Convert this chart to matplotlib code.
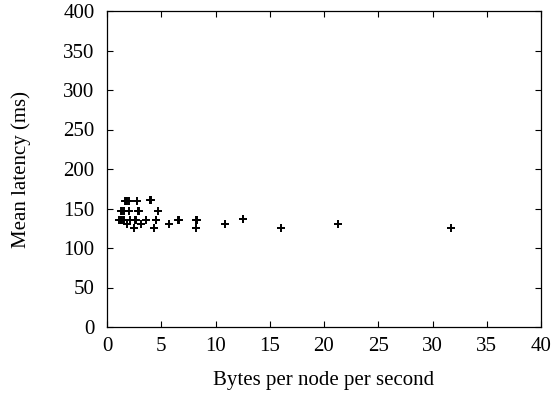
import matplotlib
matplotlib.use("Agg")
import matplotlib.pyplot as plt

# bytes per node per second vs mean latency (ms)
rate = [1.15, 1.25, 1.32, 1.45, 1.55, 1.3, 1.42, 1.55, 1.65, 1.72, 1.88, 2.07,
        2.04, 1.88, 2.14, 2.47, 2.6, 2.66, 2.73, 2.9, 2.96, 3.13, 3.56, 4.0, 4.05,
        4.35, 4.48, 4.53, 4.71, 5.70, 6.58, 6.62, 8.16, 8.24, 8.28, 10.83, 12.5,
        12.58, 16.03, 21.27, 31.74]
latency = [136, 136, 136, 136, 136, 147, 147, 147, 160, 160, 160, 160,
           147, 130, 136, 125, 136, 136, 160, 147, 147, 130, 136, 161, 161,
           125, 136, 136, 147, 130, 136, 136, 125, 136, 136, 130, 137,
           137, 125, 130, 125]

plt.rcParams['font.family'] = ['Liberation Serif', 'DejaVu Serif']
plt.rcParams['font.size'] = 15

W, H = 560, 394
L, R, T, B = 107, 541, 11, 327
fig = plt.figure(figsize=(W / 100, H / 100), dpi=100)
ax = fig.add_axes([L / W, 1 - B / H, (R - L) / W, (B - T) / H])

ax.plot(rate, latency, '+', color='black', markersize=6, markeredgewidth=1.4)

ax.set_xlim(0, 40)
ax.set_ylim(0, 400)
ax.set_xticks(range(0, 41, 5))
ax.set_yticks(range(0, 401, 50))
ax.tick_params(direction='in', top=True, right=True, length=4, width=0.8)
ax.tick_params(axis='x', pad=7)
ax.tick_params(axis='y', pad=9)
for s in ax.spines.values():
    s.set_linewidth(0.9)

ax.set_xlabel("Bytes per node per second", va='center')
ax.set_ylabel("Mean latency (ms)", va='center')
ax.xaxis.set_label_coords(0.5, -(380 - B) / (B - T))
ax.yaxis.set_label_coords(-(L - 21) / (R - L), 0.5)

fig.savefig("out.png", dpi=100)
